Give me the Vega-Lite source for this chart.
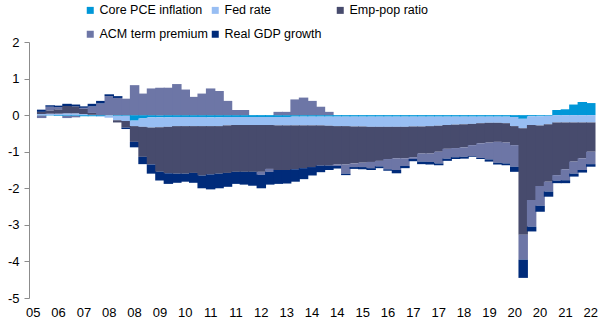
{
  "$schema": "https://vega.github.io/schema/vega-lite/v6.json",
  "width": 566,
  "height": 256,
  "autosize": {"type": "none"},
  "padding": {"left": 29, "top": 42, "right": 7, "bottom": 30},
  "background": "white",
  "config": {"view": {"stroke": null}, "font": "Liberation Sans"},
  "datasets": {
    "series": [
      {"key": "c", "s": "Core PCE inflation", "k": 1},
      {"key": "f", "s": "Fed rate", "k": 2},
      {"key": "e", "s": "Emp-pop ratio", "k": 3},
      {"key": "a", "s": "ACM term premium", "k": 4},
      {"key": "g", "s": "Real GDP growth", "k": 5}
    ]
  },
  "data": {
    "values": [
      {"q": "2006Q1", "c": -0.01, "f": 0.03, "e": 0.06, "a": -0.07, "g": 0.06},
      {"q": "2006Q2", "c": -0.01, "f": 0.04, "e": 0.09, "a": 0.1, "g": 0.04},
      {"q": "2006Q3", "c": -0.02, "f": 0.04, "e": 0.12, "a": 0.06, "g": 0.04},
      {"q": "2006Q4", "c": -0.02, "f": 0.05, "e": 0.2, "a": -0.06, "g": 0.06},
      {"q": "2007Q1", "c": -0.02, "f": 0.05, "e": 0.19, "a": -0.04, "g": 0.05},
      {"q": "2007Q2", "c": -0.03, "f": 0.03, "e": 0.14, "a": 0.03, "g": 0.04},
      {"q": "2007Q3", "c": -0.03, "f": 0.01, "e": 0.05, "a": 0.18, "g": 0.07},
      {"q": "2007Q4", "c": -0.03, "f": -0.01, "e": 0.0, "a": 0.32, "g": 0.07},
      {"q": "2008Q1", "c": -0.01, "f": -0.06, "e": 0.0, "a": 0.52, "g": 0.05},
      {"q": "2008Q2", "c": -0.02, "f": -0.12, "e": -0.06, "a": 0.47, "g": 0.05},
      {"q": "2008Q3", "c": -0.02, "f": -0.14, "e": -0.18, "a": 0.45, "g": -0.04},
      {"q": "2008Q4", "c": -0.15, "f": -0.15, "e": -0.43, "a": 0.82, "g": -0.15},
      {"q": "2009Q1", "c": -0.09, "f": -0.23, "e": -0.82, "a": 0.59, "g": -0.2},
      {"q": "2009Q2", "c": -0.06, "f": -0.28, "e": -1.01, "a": 0.73, "g": -0.25},
      {"q": "2009Q3", "c": -0.06, "f": -0.27, "e": -1.22, "a": 0.75, "g": -0.24},
      {"q": "2009Q4", "c": -0.06, "f": -0.26, "e": -1.27, "a": 0.75, "g": -0.29},
      {"q": "2010Q1", "c": -0.05, "f": -0.25, "e": -1.3, "a": 0.85, "g": -0.25},
      {"q": "2010Q2", "c": -0.05, "f": -0.25, "e": -1.3, "a": 0.7, "g": -0.22},
      {"q": "2010Q3", "c": -0.05, "f": -0.25, "e": -1.28, "a": 0.5, "g": -0.27},
      {"q": "2010Q4", "c": -0.05, "f": -0.25, "e": -1.35, "a": 0.59, "g": -0.35},
      {"q": "2011Q1", "c": -0.06, "f": -0.24, "e": -1.32, "a": 0.73, "g": -0.41},
      {"q": "2011Q2", "c": -0.06, "f": -0.24, "e": -1.3, "a": 0.66, "g": -0.4},
      {"q": "2011Q3", "c": -0.05, "f": -0.23, "e": -1.3, "a": 0.39, "g": -0.38},
      {"q": "2011Q4", "c": -0.05, "f": -0.22, "e": -1.28, "a": 0.14, "g": -0.33},
      {"q": "2012Q1", "c": -0.05, "f": -0.22, "e": -1.28, "a": 0.14, "g": -0.35},
      {"q": "2012Q2", "c": -0.05, "f": -0.22, "e": -1.28, "a": 0.0, "g": -0.38},
      {"q": "2012Q3", "c": -0.05, "f": -0.22, "e": -1.28, "a": -0.08, "g": -0.37},
      {"q": "2012Q4", "c": -0.05, "f": -0.22, "e": -1.2, "a": -0.08, "g": -0.35},
      {"q": "2013Q1", "c": -0.05, "f": -0.23, "e": -1.22, "a": 0.09, "g": -0.38},
      {"q": "2013Q2", "c": -0.05, "f": -0.23, "e": -1.22, "a": 0.09, "g": -0.37},
      {"q": "2013Q3", "c": -0.04, "f": -0.24, "e": -1.2, "a": 0.43, "g": -0.34},
      {"q": "2013Q4", "c": -0.04, "f": -0.24, "e": -1.17, "a": 0.48, "g": -0.3},
      {"q": "2014Q1", "c": -0.04, "f": -0.24, "e": -1.14, "a": 0.39, "g": -0.23},
      {"q": "2014Q2", "c": -0.04, "f": -0.24, "e": -1.1, "a": 0.23, "g": -0.18},
      {"q": "2014Q3", "c": -0.04, "f": -0.25, "e": -1.09, "a": 0.09, "g": -0.12},
      {"q": "2014Q4", "c": -0.04, "f": -0.26, "e": -1.05, "a": -0.04, "g": -0.07},
      {"q": "2015Q1", "c": -0.04, "f": -0.26, "e": -1.05, "a": -0.25, "g": -0.04},
      {"q": "2015Q2", "c": -0.04, "f": -0.27, "e": -1.01, "a": -0.1, "g": -0.05},
      {"q": "2015Q3", "c": -0.04, "f": -0.27, "e": -0.99, "a": -0.12, "g": -0.06},
      {"q": "2015Q4", "c": -0.04, "f": -0.28, "e": -0.96, "a": -0.17, "g": -0.05},
      {"q": "2016Q1", "c": -0.04, "f": -0.28, "e": -0.93, "a": -0.15, "g": -0.05},
      {"q": "2016Q2", "c": -0.04, "f": -0.28, "e": -0.88, "a": -0.28, "g": -0.04},
      {"q": "2016Q3", "c": -0.04, "f": -0.28, "e": -0.86, "a": -0.32, "g": -0.09},
      {"q": "2016Q4", "c": -0.04, "f": -0.28, "e": -0.86, "a": -0.21, "g": -0.06},
      {"q": "2017Q1", "c": -0.04, "f": -0.27, "e": -0.84, "a": -0.05, "g": -0.06},
      {"q": "2017Q2", "c": -0.04, "f": -0.27, "e": -0.74, "a": -0.22, "g": -0.07},
      {"q": "2017Q3", "c": -0.04, "f": -0.26, "e": -0.75, "a": -0.23, "g": -0.07},
      {"q": "2017Q4", "c": -0.04, "f": -0.25, "e": -0.71, "a": -0.32, "g": -0.05},
      {"q": "2018Q1", "c": -0.04, "f": -0.23, "e": -0.65, "a": -0.27, "g": -0.06},
      {"q": "2018Q2", "c": -0.04, "f": -0.22, "e": -0.64, "a": -0.25, "g": -0.05},
      {"q": "2018Q3", "c": -0.04, "f": -0.21, "e": -0.63, "a": -0.26, "g": -0.05},
      {"q": "2018Q4", "c": -0.04, "f": -0.2, "e": -0.58, "a": -0.3, "g": -0.02},
      {"q": "2019Q1", "c": -0.04, "f": -0.18, "e": -0.55, "a": -0.4, "g": -0.03},
      {"q": "2019Q2", "c": -0.04, "f": -0.17, "e": -0.54, "a": -0.46, "g": -0.06},
      {"q": "2019Q3", "c": -0.04, "f": -0.17, "e": -0.52, "a": -0.57, "g": -0.05},
      {"q": "2019Q4", "c": -0.04, "f": -0.18, "e": -0.53, "a": -0.57, "g": -0.05},
      {"q": "2020Q1", "c": -0.05, "f": -0.25, "e": -0.52, "a": -0.59, "g": -0.14},
      {"q": "2020Q2", "c": -0.1, "f": -0.26, "e": -2.91, "a": -0.68, "g": -0.5},
      {"q": "2020Q3", "c": -0.03, "f": -0.24, "e": -2.05, "a": -0.73, "g": -0.13},
      {"q": "2020Q4", "c": -0.03, "f": -0.25, "e": -1.66, "a": -0.54, "g": -0.16},
      {"q": "2021Q1", "c": -0.02, "f": -0.23, "e": -1.57, "a": -0.27, "g": -0.14},
      {"q": "2021Q2", "c": 0.14, "f": -0.2, "e": -1.44, "a": -0.15, "g": -0.07},
      {"q": "2021Q3", "c": 0.16, "f": -0.2, "e": -1.28, "a": -0.3, "g": -0.08},
      {"q": "2021Q4", "c": 0.29, "f": -0.2, "e": -1.07, "a": -0.33, "g": -0.08},
      {"q": "2022Q1", "c": 0.36, "f": -0.2, "e": -0.98, "a": -0.32, "g": -0.07},
      {"q": "2022Q2", "c": 0.33, "f": -0.2, "e": -0.8, "a": -0.34, "g": -0.07}
    ]
  },
  "transform": [
    {"fold": ["c", "f", "e", "a", "g"], "as": ["key", "v"]},
    {"lookup": "key", "from": {"data": {"name": "series"}, "key": "key", "fields": ["s", "k"]}}
  ],
  "mark": {"type": "bar", "width": {"band": 1.12}, "opacity": 1},
  "encoding": {
    "x": {
      "field": "q",
      "type": "ordinal",
      "title": null,
      "scale": {
        "domain": ["2005Q4","2006Q1","2006Q2","2006Q3","2006Q4","2007Q1","2007Q2","2007Q3","2007Q4","2008Q1","2008Q2","2008Q3","2008Q4","2009Q1","2009Q2","2009Q3","2009Q4","2010Q1","2010Q2","2010Q3","2010Q4","2011Q1","2011Q2","2011Q3","2011Q4","2012Q1","2012Q2","2012Q3","2012Q4","2013Q1","2013Q2","2013Q3","2013Q4","2014Q1","2014Q2","2014Q3","2014Q4","2015Q1","2015Q2","2015Q3","2015Q4","2016Q1","2016Q2","2016Q3","2016Q4","2017Q1","2017Q2","2017Q3","2017Q4","2018Q1","2018Q2","2018Q3","2018Q4","2019Q1","2019Q2","2019Q3","2019Q4","2020Q1","2020Q2","2020Q3","2020Q4","2021Q1","2021Q2","2021Q3","2021Q4","2022Q1","2022Q2"],
        "paddingInner": 0,
        "paddingOuter": 0
      },
      "axis": {
        "values": ["2005Q4","2006Q3","2007Q2","2008Q1","2008Q4","2009Q3","2010Q2","2011Q1","2011Q4","2012Q3","2013Q2","2014Q1","2014Q4","2015Q3","2016Q2","2017Q1","2017Q4","2018Q3","2019Q2","2020Q1","2020Q4","2021Q3","2022Q2"],
        "labelExpr": "substring(datum.value, 2, 4)",
        "labelAngle": 0,
        "domain": false,
        "ticks": false,
        "labelFontSize": 13,
        "labelColor": "#000000",
        "labelPadding": 8,
        "labelOverlap": false
      }
    },
    "y": {
      "field": "v",
      "type": "quantitative",
      "stack": "zero",
      "title": null,
      "scale": {"domain": [-5, 2], "nice": false},
      "axis": {
        "values": [-5, -4, -3, -2, -1, 0, 1, 2],
        "grid": false,
        "domainColor": "#8c8c8c",
        "tickColor": "#8c8c8c",
        "tickSize": 5,
        "labelFontSize": 13,
        "labelColor": "#000000",
        "labelPadding": 5,
        "labelExpr": "datum.value < 0 ? '-' + abs(datum.value) + '\u00a0' : '' + datum.value"
      }
    },
    "color": {
      "field": "s",
      "type": "nominal",
      "scale": {
        "domain": ["Core PCE inflation", "Fed rate", "Emp-pop ratio", "ACM term premium", "Real GDP growth"],
        "range": ["#0097D8", "#98BEF3", "#474B6D", "#6D76A6", "#002B7A"]
      },
      "legend": {
        "title": null,
        "orient": "none",
        "legendX": 55,
        "legendY": -38,
        "direction": "horizontal",
        "columns": 3,
        "gridAlign": "all",
        "symbolType": "square",
        "symbolSize": 49,
        "symbolStrokeWidth": 0,
        "labelFontSize": 12.5,
        "labelColor": "#000000",
        "labelOffset": 3,
        "columnPadding": 1,
        "rowPadding": 11,
        "padding": 0
      }
    },
    "order": {"field": "k", "type": "quantitative"}
  }
}
